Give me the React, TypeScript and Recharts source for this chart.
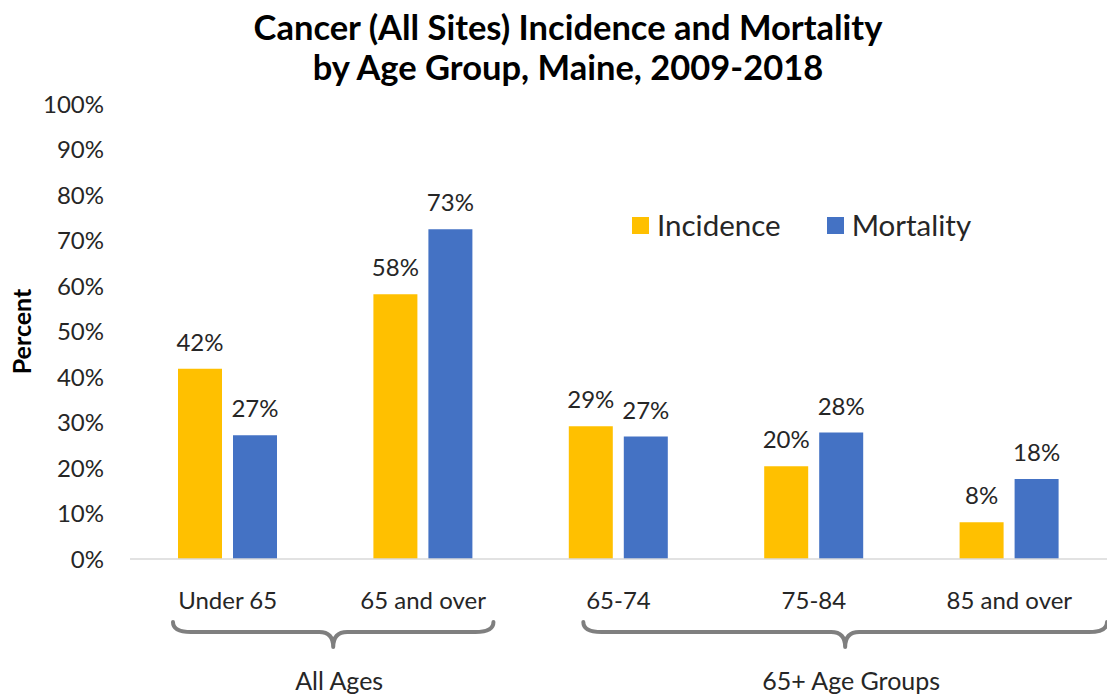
import { Bar, BarChart, LabelList, Legend, XAxis, YAxis } from 'recharts'

const categories = ['Under 65', '65 and over', '65-74', '75-84', '85 and over']
const groups = ['All Ages', 'All Ages', '65+ Age Groups', '65+ Age Groups', '65+ Age Groups']
const incidence = [41.8, 58.2, 29.2, 20.4, 8.1]
const mortality = [27.2, 72.5, 26.9, 27.8, 17.6]
const yTicks = [0, 10, 20, 30, 40, 50, 60, 70, 80, 90, 100]

const data = categories.map((name, i) => ({
  name,
  group: groups[i],
  incidence: incidence[i],
  mortality: mortality[i],
}))

const FONT = 'Lato, "Open Sans", sans-serif'
const TEXT = '#262626'

// how far each brace reaches past its first / last category, in band widths
const braceReach: Record<string, [number, number]> = {
  'All Ages': [0.28, 0.36],
  '65+ Age Groups': [0.18, 0.5],
}

const brace = (x1: number, x2: number, y0: number) => {
  const y1 = y0 + 10
  const y2 = y0 + 25
  const mid = (x1 + x2) / 2
  return [
    `M${x1},${y0}`,
    `Q${x1},${y1} ${x1 + 18},${y1}`,
    `L${mid - 14},${y1}`,
    `Q${mid},${y1} ${mid},${y2}`,
    `Q${mid},${y1} ${mid + 14},${y1}`,
    `L${x2 - 18},${y1}`,
    `Q${x2},${y1} ${x2},${y0}`,
  ].join(' ')
}

const AgeTick = (props: any) => {
  const { x, y, payload, index } = props
  const band = (payload?.offset ?? 97.7) * 2
  const group = groups[index]
  const first = groups.indexOf(group) === index
  let extra = null
  if (first) {
    const last = groups.lastIndexOf(group)
    const [l, r] = braceReach[group]
    const x1 = x - l * band
    const x2 = x + (last - index) * band + r * band
    const mid = (x1 + x2) / 2
    extra = (
      <g>
        <path
          d={brace(x1, x2, y + 30)}
          fill="none"
          stroke="#7f7f7f"
          strokeWidth={4}
          strokeLinecap="round"
          strokeLinejoin="round"
        />
        <text x={mid + 6} y={y + 98} textAnchor="middle" fontSize={25} fill={TEXT} fontFamily={FONT}>
          {group}
        </text>
      </g>
    )
  }
  return (
    <g>
      <text x={x} y={y} dy="0.71em" textAnchor="middle" fontSize={24} fill={TEXT} fontFamily={FONT}>
        {payload.value}
      </text>
      {extra}
    </g>
  )
}

const LegendContent = ({ payload }: any) => (
  <div style={{ display: 'flex', alignItems: 'center', gap: 46, fontFamily: FONT }}>
    {(payload || []).map((e: any) => (
      <div key={e.value} style={{ display: 'flex', alignItems: 'center' }}>
        <span style={{ width: 17, height: 17, background: e.color, marginRight: 8, display: 'inline-block' }} />
        <span style={{ fontSize: 29.5, color: TEXT, lineHeight: '32px' }}>{e.value}</span>
      </div>
    ))}
  </div>
)

const pct = (v: any) => `${Math.round(Number(v))}%`

export default function App() {
  return (
    <div style={{ position: 'absolute', left: 0, top: 0, width: 1107, height: 696, background: '#fff', overflow: 'hidden' }}>
      <div
        style={{
          position: 'absolute',
          left: 68,
          top: 7,
          width: 1000,
          textAlign: 'center',
          fontFamily: FONT,
          fontWeight: 700,
          fontSize: 34.5,
          lineHeight: '40px',
          color: '#000',
        }}
      >
        Cancer (All Sites) Incidence and Mortality
        <br />
        by Age Group, Maine, 2009-2018
      </div>
      <BarChart
        width={1107}
        height={696}
        data={data}
        margin={{ top: 104, right: 0, bottom: 0, left: 0 }}
        barSize={44}
        barGap={11}
      >
        <XAxis
          dataKey="name"
          interval={0}
          tickLine={false}
          axisLine={{ stroke: '#d9d9d9', strokeWidth: 1.5 }}
          tickMargin={27}
          height={137}
          tick={<AgeTick />}
        />
        <YAxis
          domain={[0, 100]}
          ticks={yTicks}
          tickFormatter={(v) => `${v}%`}
          axisLine={false}
          tickLine={false}
          width={130}
          tickMargin={20}
          tick={{ fontSize: 24, fill: TEXT, fontFamily: FONT }}
          label={{
            value: 'Percent',
            angle: -90,
            position: 'insideLeft',
            offset: 22,
            style: { textAnchor: 'middle', fontSize: 25, fontWeight: 700, fill: '#000', fontFamily: FONT },
          }}
        />
        <Legend
          layout="horizontal"
          verticalAlign="middle"
          align="center"
          content={<LegendContent />}
          wrapperStyle={{ position: 'absolute', left: 632, top: 209, width: 'auto', right: 'auto', bottom: 'auto' }}
        />
        <Bar dataKey="incidence" name="Incidence" fill="#FFC000" isAnimationActive={false}>
          <LabelList dataKey="incidence" position="top" offset={18} formatter={pct} fontSize={24} fill={TEXT} fontFamily={FONT} />
        </Bar>
        <Bar dataKey="mortality" name="Mortality" fill="#4472C4" isAnimationActive={false}>
          <LabelList dataKey="mortality" position="top" offset={18} formatter={pct} fontSize={24} fill={TEXT} fontFamily={FONT} />
        </Bar>
      </BarChart>
    </div>
  )
}
